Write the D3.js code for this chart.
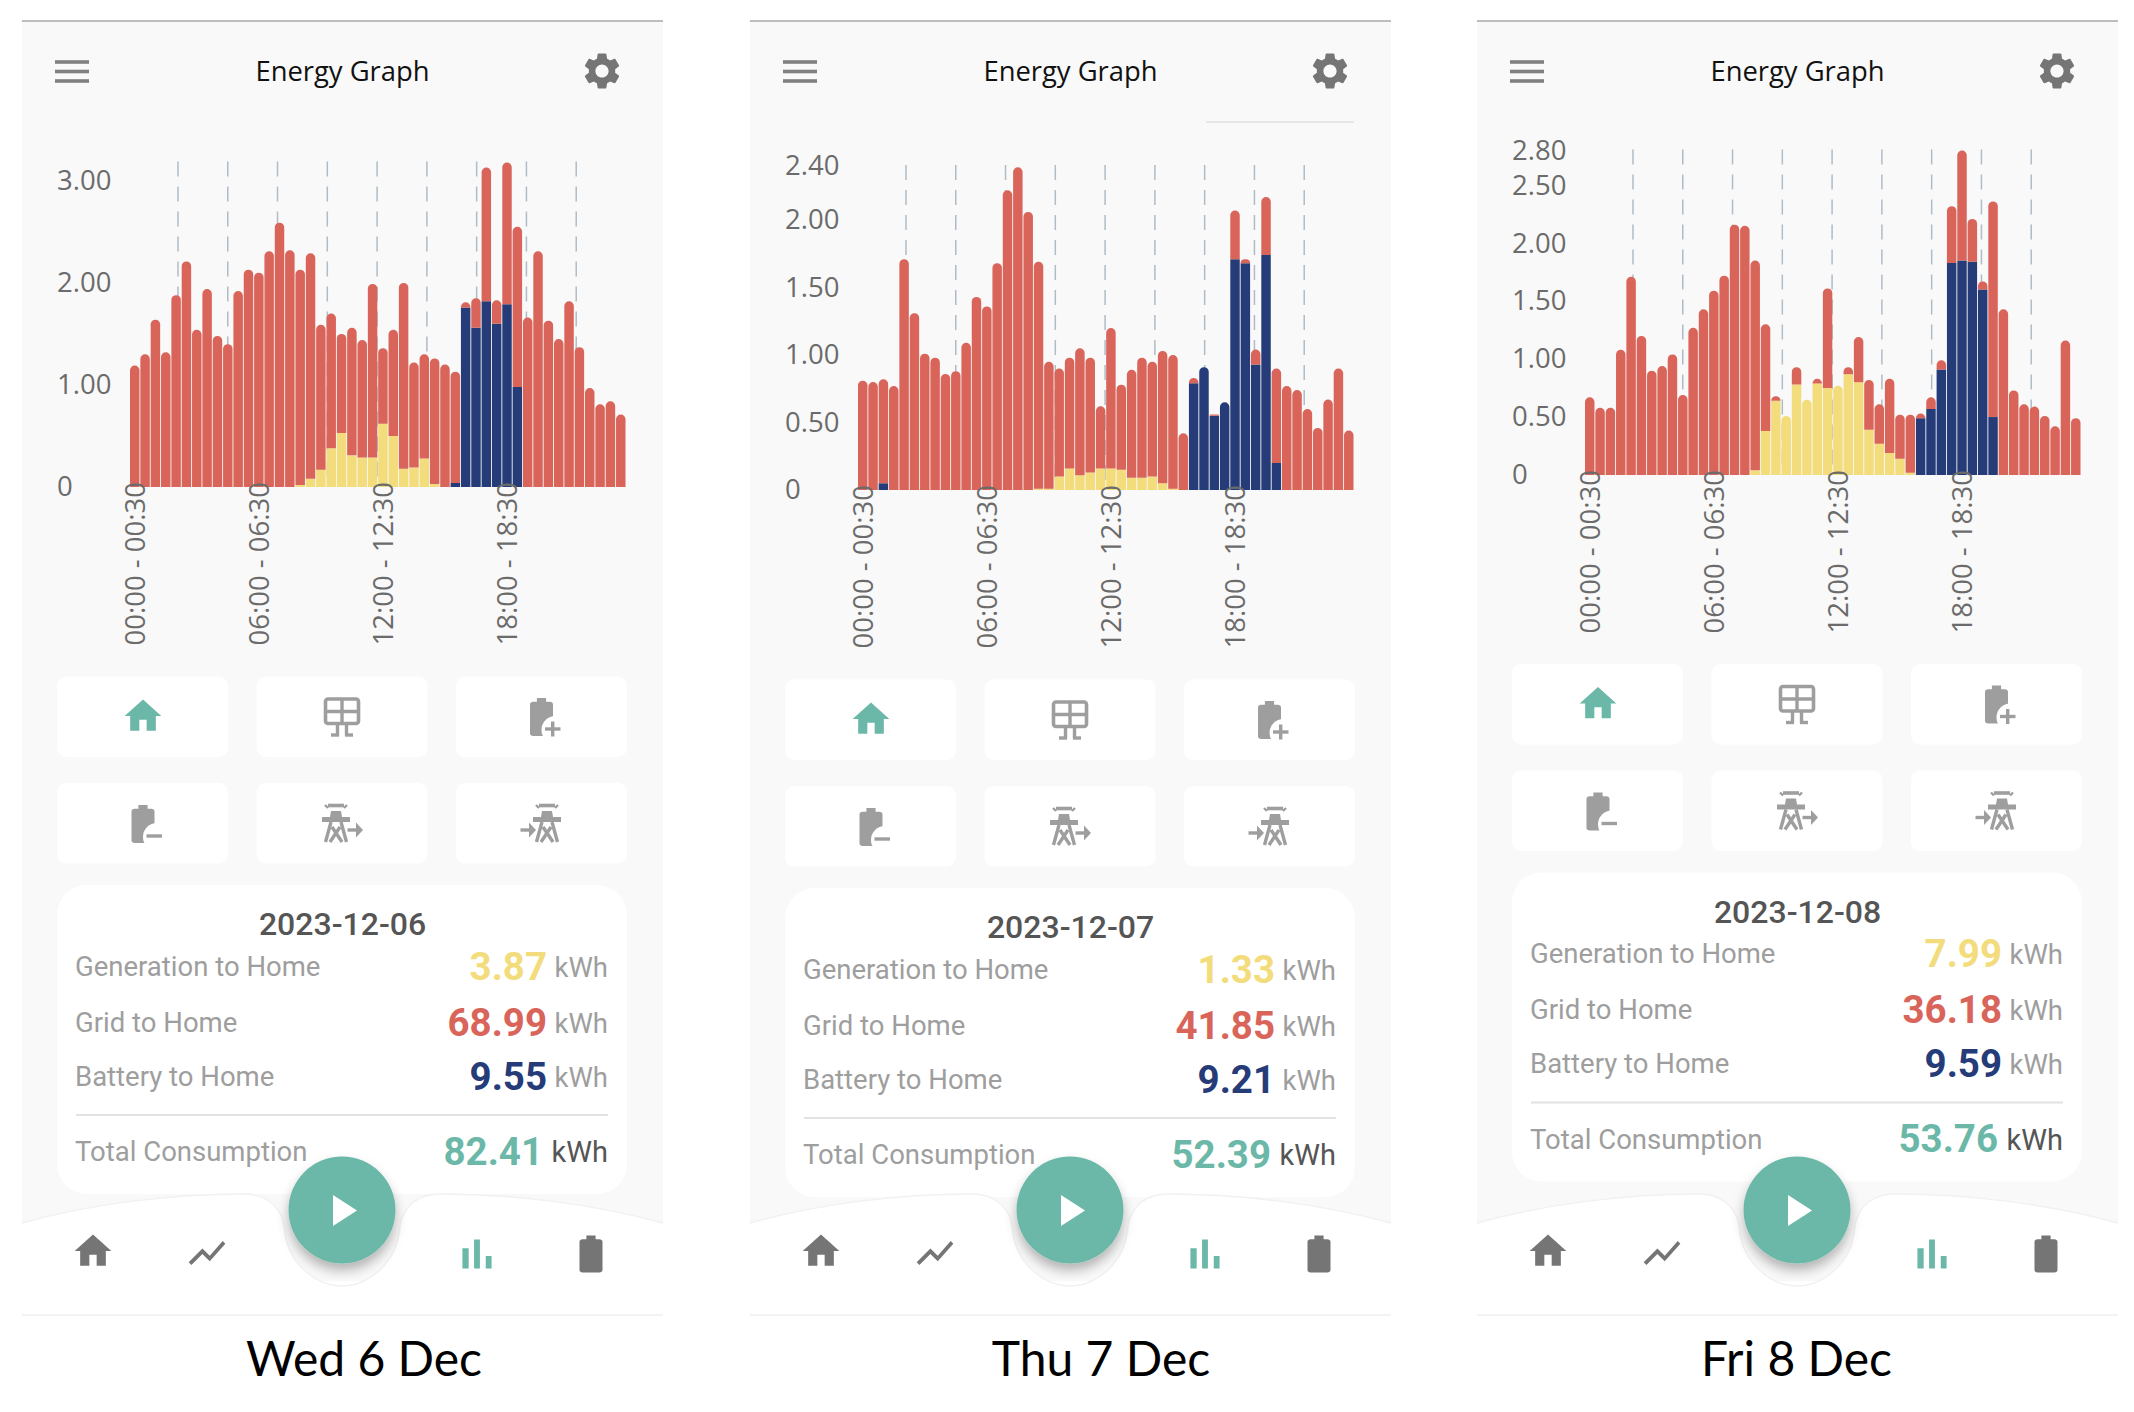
<!DOCTYPE html>
<html>
<head>
<meta charset="utf-8">
<title>Energy Graph</title>
<script src="https://cdn.jsdelivr.net/npm/d3@7"></script>
<style>
  html, body { margin: 0; padding: 0; background: #fff; }
  svg { display: block; }
  .tick-label { font-family: "Open Sans", sans-serif; font-size: 27.5px; fill: #6b6b6b; }
  .row-label { font-family: Roboto, sans-serif; font-size: 27.5px; fill: #9e9e9e; }
  .row-value { font-family: Roboto, sans-serif; font-size: 38.5px; font-weight: 700; }
  .row-unit { font-family: Roboto, sans-serif; font-size: 27.5px; fill: #9e9e9e; }
</style>
</head>
<body>
<svg id="vis" width="2134" height="1412"></svg>
<script>
const slotLabels = ["00:00 - 00:30", "06:00 - 06:30", "12:00 - 12:30", "18:00 - 18:30"];
const slotIndex = [0, 12, 24, 36];

const dates = ["2023-12-06", "2023-12-07", "2023-12-08"];
const captions = ["Wed 6 Dec", "Thu 7 Dec", "Fri 8 Dec"];
const rowNames = ["Generation to Home", "Grid to Home", "Battery to Home"];
const genTotals = ["3.87", "1.33", "7.99"];
const gridTotals = ["68.99", "41.85", "36.18"];
const battTotals = ["9.55", "9.21", "9.59"];
const allTotals = ["82.41", "52.39", "53.76"];

const ticks06 = [0, 1, 2, 3];
const ticks07 = [0, 0.5, 1, 1.5, 2, 2.4];
const ticks08 = [0, 0.5, 1, 1.5, 2, 2.5, 2.8];
const maxY = [3.18, 2.4, 2.8];

const gen06 = [0,0,0,0,0,0,0,0,0,0,0,0,0,0,0,0,
  .02,.08,.17,.38,.53,.31,.29,.29,.62,.50,.18,.19,.28,.03,
  0,0,0,0,0,0,0,0,0,0,0,0,0,0,0,0,0,0];
const batt06 = [0,0,0,0,0,0,0,0,0,0,0,0,0,0,0,0,0,0,0,0,0,0,0,0,0,0,0,0,0,0,0,
  .04,1.76,1.56,1.82,1.60,1.79,.98,
  0,0,0,0,0,0,0,0,0,0];
const grid06 = [1.19,1.30,1.64,1.32,1.88,2.21,1.54,1.94,1.48,1.40,1.92,2.13,2.10,2.31,2.59,2.32,
  2.11,2.21,1.42,1.32,.97,1.25,1.15,1.70,.74,1.04,1.82,1.03,1.02,1.23,1.20,1.09,
  .05,.29,1.31,.23,1.39,1.57,1.66,2.31,1.63,1.45,1.82,1.37,.97,.81,.84,.71];

const gen07 = [0,0,0,0,0,0,0,0,0,0,0,0,0,0,0,0,0,
  .01,.01,.10,.16,.11,.13,.16,.16,.15,.09,.09,.10,.05,.01,
  0,0,0,0,0,0,0,0,0,0,0,0,0,0,0,0,0];
const batt07 = [0,0,.05,0,0,0,0,0,0,0,0,0,0,0,0,0,0,0,0,0,0,0,0,0,0,0,0,0,0,0,0,0,
  .79,.91,.55,.65,1.71,1.68,.93,1.74,.20,
  0,0,0,0,0,0,0];
const grid07 = [.81,.80,.77,.77,1.71,1.31,1.01,.98,.86,.88,1.09,1.43,1.36,1.68,2.22,2.39,
  2.06,1.68,.94,.80,.82,.94,.85,.46,1.04,.63,.80,.89,.85,.98,.99,.42,
  .04,0,.01,0,.36,.03,.11,.43,.70,.77,.74,.60,.46,.67,.90,.44];

const gen08 = [0,0,0,0,0,0,0,0,0,0,0,0,0,0,0,0,
  .04,.38,.64,.51,.78,.65,.79,.75,.77,.87,.80,.39,.27,.19,.14,.02,
  0,0,0,0,0,0,0,0,0,0,0,0,0,0,0,0];
const batt08 = [0,0,0,0,0,0,0,0,0,0,0,0,0,0,0,0,0,0,0,0,0,0,0,0,0,0,0,0,0,0,0,0,
  .49,.57,.91,1.83,1.85,1.84,1.60,.50,
  0,0,0,0,0,0,0,0];
const grid08 = [.67,.58,.58,1.08,1.71,1.20,.90,.94,1.04,.69,1.27,1.43,1.59,1.72,2.16,2.15,
  1.81,.92,.04,0,.15,0,.04,.86,0,.06,.39,.43,.34,.64,.38,.50,
  .04,.10,.08,.49,.95,.37,.07,1.86,1.43,.73,.61,.59,.51,.42,1.16,.49];

const gens = [gen06, gen07, gen08];
const batts = [batt06, batt07, batt08];
const grids = [grid06, grid07, grid08];
const tickSets = [ticks06, ticks07, ticks08];

const YELLOW = "#f3dc7c", RED = "#d9645a", BLUE = "#253c78", TEAL = "#6cb8a8", ICON = "#9e9e9e", NAV = "#757575";
const colors = { gen: YELLOW, batt: BLUE, grid: RED };

const panelDx = [0, 728, 1455];
const chartBase = [487, 490, 475];
const chartTop = [162.5, 166, 150.5];
const cardShift = [0, 3, -12.5];
const captionX = [364, 1101, 1796.5];

const IC = {
  home: "M10 20v-6h4v6h5v-8h3L12 3 2 12h3v8z",
  gear: "M19.14 12.94c.04-.3.06-.61.06-.94 0-.32-.02-.64-.07-.94l2.03-1.58c.18-.14.23-.41.12-.61l-1.92-3.32c-.12-.22-.37-.29-.59-.22l-2.39.96c-.5-.38-1.03-.7-1.62-.94l-.36-2.54c-.04-.24-.24-.41-.48-.41h-3.84c-.24 0-.43.17-.47.41l-.36 2.54c-.59.24-1.13.57-1.62.94l-2.39-.96c-.22-.08-.47 0-.59.22L2.74 8.87c-.12.21-.08.47.12.61l2.03 1.58c-.05.3-.09.63-.09.94s.02.64.07.94l-2.03 1.58c-.18.14-.23.41-.12.61l1.92 3.32c.12.22.37.29.59.22l2.39-.96c.5.38 1.03.7 1.62.94l.36 2.54c.05.24.24.41.48.41h3.84c.24 0 .44-.17.47-.41l.36-2.54c.59-.24 1.13-.56 1.62-.94l2.39.96c.22.08.47 0 .59-.22l1.92-3.32c.12-.22.07-.47-.12-.61l-2.01-1.58zM12 15.6c-1.98 0-3.6-1.62-3.6-3.6s1.62-3.6 3.6-3.6 3.6 1.62 3.6 3.6-1.62 3.6-3.6 3.6z",
  battery: "M15.67 4H14V2h-4v2H8.33C7.6 4 7 4.6 7 5.33v15.33C7 21.4 7.6 22 8.33 22h7.33c.74 0 1.34-.6 1.34-1.33V5.33C17 4.6 16.4 4 15.67 4z",
  trend: "M3.5 18.49l6-6.01 4 4L22 6.92l-1.41-1.41-7.09 7.97-4-4L2 16.99z",
  bars: "M5 9.2h3V19H5zM10.6 5h2.8v14h-2.8zm5.6 8H19v6h-2.8z"
};

const svg = d3.select("#vis");
const defs = svg.append("defs");
defs.append("filter").attr("id", "playShadow")
  .attr("x", "-40%").attr("y", "-40%").attr("width", "180%").attr("height", "200%")
  .append("feDropShadow").attr("dx", 0).attr("dy", 7).attr("stdDeviation", 6)
  .attr("flood-color", "#000").attr("flood-opacity", 0.28);

function mat(g, key, cx, cy, size, fill) {
  const s = size / 24;
  g.append("path").attr("d", IC[key]).attr("fill", fill)
    .attr("transform", `translate(${cx - 12 * s},${cy - 12 * s}) scale(${s})`);
}

function line(g, x1, y1, x2, y2, w) {
  g.append("line").attr("x1", x1).attr("y1", y1).attr("x2", x2).attr("y2", y2)
    .attr("stroke", ICON).attr("stroke-width", w);
}

function solarIcon(g, cx, cy) {
  const i = g.append("g").attr("transform", `translate(${cx},${cy})`);
  i.append("rect").attr("x", -16.5).attr("y", -17.5).attr("width", 33).attr("height", 24.5).attr("rx", 2.5)
    .attr("fill", "none").attr("stroke", ICON).attr("stroke-width", 3.6);
  line(i, -17, -5, 17, -5, 3.4);
  line(i, 0, -17.5, 0, 7, 3.4);
  line(i, -4.5, 7, -4.5, 19, 3.4);
  line(i, 4.5, 7, 4.5, 19, 3.4);
  line(i, -11, 18.5, -3, 18.5, 3.4);
  line(i, 3, 18.5, 11, 18.5, 3.4);
}

function batteryIcon(g, cx, cy, plus) {
  const i = g.append("g").attr("transform", `translate(${cx},${cy})`);
  i.append("path").attr("d", IC.battery).attr("fill", ICON)
    .attr("transform", "translate(-27.6,-22.8) scale(2.3,1.9)");
  i.append("circle").attr("cx", 14).attr("cy", 13).attr("r", 14).attr("fill", "#fff");
  line(i, 3.5, 12, 19, 12, 3.4);
  if (plus) line(i, 11.2, 4.5, 11.2, 19.5, 3.4);
}

function towerIcon(g, cx, cy, arrowDx) {
  const i = g.append("g").attr("transform", `translate(${cx},${cy})`);
  line(i, -8, -17.5, 8, -17.5, 3.6);
  line(i, -11, -18, -8, -15, 2.4);
  line(i, 8, -15, 11, -18, 2.4);
  i.append("path").attr("d", "M-5,-12H5L6,-6H14V-1H-14V-6H-6Z").attr("fill", ICON);
  i.append("path").attr("d", "M-5,-1L-10.5,19M5,-1L10.5,19M-4,4L6,19M4,4L-6,19")
    .attr("fill", "none").attr("stroke", ICON).attr("stroke-width", 3.4);
  const a = i.append("g").attr("transform", `translate(${arrowDx},7)`);
  line(a, -7.5, 0, 2, 0, 3.4);
  a.append("path").attr("d", "M1,-7.5L8,0L1,7.5Z").attr("fill", ICON);
}

const navTop = "M22,1223C90,1204 170,1194 244,1194C265,1194 280,1205 284,1225C286,1265 318,1286 342,1286C366,1286 398,1265 400,1225C404,1205 419,1194 440,1194C514,1194 594,1204 663,1223";

// one phone screenshot per day
dates.forEach((date, p) => {
  const dx = panelDx[p];
  const base = chartBase[p];
  const shift = cardShift[p];
  const g = svg.append("g").attr("transform", `translate(${dx},0)`);

  g.append("rect").attr("x", 22).attr("y", 21).attr("width", 641).attr("height", 1260).attr("fill", "#f9f9f9");
  g.append("line").attr("x1", 22).attr("x2", 663).attr("y1", 21).attr("y2", 21).attr("stroke", "#bdbdbd").attr("stroke-width", 2);

  // header
  [62, 71.5, 81].forEach(y => {
    g.append("rect").attr("x", 55).attr("y", y - 1.8).attr("width", 34).attr("height", 3.6).attr("fill", "#808080");
  });
  g.append("text").attr("x", 342.5).attr("y", 81)
    .attr("text-anchor", "middle")
    .style("font-family", '"Open Sans", sans-serif').style("font-size", "27.4px").style("fill", "#111")
    .text("Energy Graph");
  mat(g, "gear", 602, 71, 44, "#757575");

  if (p === 1) {
    g.append("line").attr("x1", 478).attr("x2", 626).attr("y1", 122).attr("y2", 122)
      .attr("stroke", "#e6e6e6").attr("stroke-width", 2);
  }

  // chart
  const table = gens[p].map((v, i) => ({ i: i, gen: v, batt: batts[p][i], grid: grids[p][i] }));
  const series = d3.stack().keys(["gen", "batt", "grid"])(table);

  const x = d3.scaleBand().domain(d3.range(48)).range([130, 625.5]).paddingInner(0.085).paddingOuter(0);
  const y = d3.scaleLinear().domain([0, maxY[p]]).range([base, chartTop[p]]);
  const gridX = d3.scaleLinear().domain([0, 10]).range([128.2, 626]);

  g.append("g").selectAll("line")
    .data(d3.range(1, 10))
    .enter().append("line")
    .attr("x1", d => gridX(d)).attr("x2", d => gridX(d))
    .attr("y1", y(maxY[p]) - 1).attr("y2", base)
    .attr("stroke", "#afbcc7").attr("stroke-width", 1.5).attr("stroke-dasharray", "15,10");

  series.forEach(s => {
    g.append("g").selectAll("path")
      .data(s.filter(d => d[1] > d[0]))
      .enter().append("path")
      .attr("fill", colors[s.key])
      .attr("d", d => {
        const i = d.data.i;
        const x0 = x(i), w = x.bandwidth(), y0 = y(d[0]), y1 = y(d[1]);
        // only the top piece of a stack has round corners
        const isTop = series.filter(o => o[i][1] > o[i][0]).pop().key === s.key;
        const r = isTop ? Math.min(4.7, y0 - y1) : 0;
        const path = d3.path();
        path.moveTo(x0, y0);
        path.lineTo(x0, y1 + r);
        if (r) path.arcTo(x0, y1, x0 + r, y1, r);
        path.lineTo(x0 + w - r, y1);
        if (r) path.arcTo(x0 + w, y1, x0 + w, y1 + r, r);
        path.lineTo(x0 + w, y0);
        path.closePath();
        return path.toString();
      });
  });

  const yAxis = g.append("g").attr("transform", "translate(57,0)")
    .call(d3.axisLeft(y).tickValues(tickSets[p]).tickSize(0).tickFormat(d => d === 0 ? "0" : d3.format(".2f")(d)));
  yAxis.select(".domain").remove();
  yAxis.selectAll("text").attr("class", "tick-label").attr("x", 0).attr("text-anchor", "start");

  const xAxis = g.append("g").attr("transform", `translate(0,${base})`)
    .call(d3.axisBottom(x).tickValues(slotIndex).tickSize(0).tickFormat(d => slotLabels[slotIndex.indexOf(d)]));
  xAxis.select(".domain").remove();
  xAxis.selectAll("text").attr("class", "tick-label")
    .attr("transform", "rotate(-90)")
    .attr("text-anchor", "end")
    .attr("x", 5).attr("y", 0).attr("dy", "0.36em");

  // filter buttons
  const btnX = [57, 256.5, 456], btnY = [676.5, 783];
  btnY.forEach(by => btnX.forEach(bx => {
    g.append("rect").attr("x", bx).attr("y", by + shift).attr("width", 171).attr("height", 80.5).attr("rx", 9).attr("fill", "#fff");
  }));
  mat(g, "home", 143, 716 + shift, 44, TEAL);
  solarIcon(g, 342, 716.5 + shift);
  batteryIcon(g, 541.5, 717 + shift, true);
  batteryIcon(g, 143, 824 + shift, false);
  towerIcon(g, 336, 823 + shift, 19);
  towerIcon(g, 547, 823 + shift, -19);

  // totals card
  const c = g.append("g").attr("transform", `translate(0,${885 + shift})`);
  c.append("rect").attr("x", 57).attr("width", 570).attr("height", 309).attr("rx", 30).attr("fill", "#fff");
  c.append("text").attr("x", 342.5).attr("y", 50).attr("text-anchor", "middle")
    .style("font-family", "Roboto, sans-serif").style("font-weight", 500).style("font-size", "32px").style("fill", "#555").text(date);

  const rows = [
    { name: rowNames[0], value: genTotals[p], color: YELLOW, y: 82 },
    { name: rowNames[1], value: gridTotals[p], color: RED, y: 138 },
    { name: rowNames[2], value: battTotals[p], color: BLUE, y: 192 }
  ];
  rows.forEach(r => {
    c.append("text").attr("class", "row-label").attr("x", 75).attr("y", r.y + 8.5).text(r.name);
    c.append("text").attr("class", "row-value").attr("x", 547).attr("y", r.y + 12.5)
      .attr("text-anchor", "end").style("fill", r.color).text(r.value);
    c.append("text").attr("class", "row-unit").attr("x", 608).attr("y", r.y + 9.5).attr("text-anchor", "end").text("kWh");
  });
  c.append("line").attr("x1", 76).attr("x2", 608).attr("y1", 230).attr("y2", 230).attr("stroke", "#e2e2e2").attr("stroke-width", 2);
  c.append("text").attr("class", "row-label").attr("x", 75).attr("y", 276).text("Total Consumption");
  c.append("text").attr("class", "row-value").attr("x", 543).attr("y", 279.5).attr("text-anchor", "end").style("fill", TEAL).text(allTotals[p]);
  c.append("text").attr("class", "row-unit").attr("x", 608).attr("y", 277).attr("text-anchor", "end").style("fill", "#555").style("font-size", "29px").text("kWh");

  // bottom nav with the notch round the play button
  g.append("path").attr("d", navTop + "L663,1315L22,1315Z").attr("fill", "#fff");
  g.append("path").attr("d", navTop).attr("fill", "none").attr("stroke", "#f1f1f1").attr("stroke-width", 1.5);
  g.append("line").attr("x1", 22).attr("x2", 663).attr("y1", 1315).attr("y2", 1315).attr("stroke", "#f3f3f3").attr("stroke-width", 2);

  g.append("circle").attr("cx", 342).attr("cy", 1210).attr("r", 53.5).attr("fill", TEAL).attr("filter", "url(#playShadow)");
  g.append("path").attr("d", "M333,1195L357,1210.5L333,1226Z").attr("fill", "#fff");

  mat(g, "home", 93, 1251, 44, NAV);
  mat(g, "trend", 207, 1253, 44, NAV);
  mat(g, "bars", 477, 1254, 50, TEAL);
  g.append("path").attr("d", IC.battery).attr("fill", NAV)
    .attr("transform", "translate(563.4,1231.8) scale(2.3,1.85)");

  svg.append("text").attr("x", captionX[p]).attr("y", 1376).attr("text-anchor", "middle")
    .style("font-family", "Lato, sans-serif").style("font-size", "48px").style("fill", "#000")
    .text(captions[p]);
});
</script>
</body>
</html>
